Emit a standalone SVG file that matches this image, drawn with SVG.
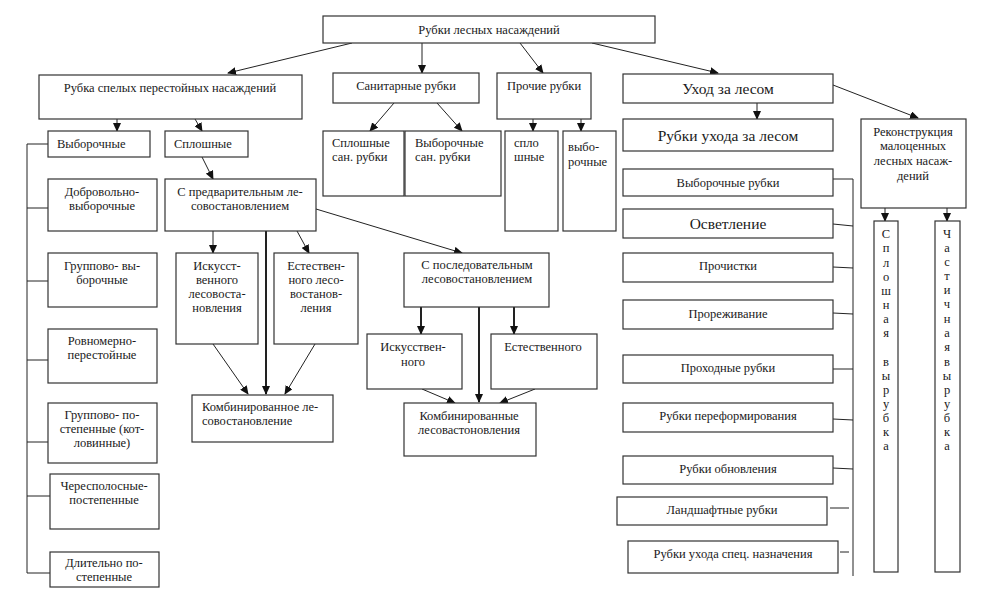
<svg xmlns="http://www.w3.org/2000/svg" width="996" height="591" viewBox="0 0 996 591" font-family="'Liberation Serif', 'DejaVu Serif', serif">
<defs>
<marker id="ah" markerWidth="9" markerHeight="8" refX="8" refY="4" orient="auto" markerUnits="userSpaceOnUse">
<path d="M0,0 L9,4 L0,8 z" fill="#111"/>
</marker>
<style>
rect{fill:#fff;stroke:#333;stroke-width:1.2}
text{font-family:'Liberation Serif','DejaVu Serif',serif;font-size:12.5px;fill:#1a1a1a}
.c{text-anchor:middle}
.big{font-size:15.5px}
.ln{stroke:#222;stroke-width:1;fill:none}
.ar{stroke:#222;stroke-width:1;fill:none;marker-end:url(#ah)}
.th{stroke:#222;stroke-width:2;fill:none;marker-end:url(#ah)}
</style>
</defs>
<rect x="0" y="0" width="996" height="591" style="fill:#fff;stroke:none"/>

<g id="connectors">
<line class="ar" x1="352" y1="43" x2="228" y2="73"/>
<line class="ar" x1="422" y1="43" x2="422" y2="73"/>
<line class="ar" x1="520" y1="43" x2="543" y2="73"/>
<line class="ar" x1="592" y1="43" x2="718" y2="73"/>
<line class="ar" x1="117" y1="119" x2="117" y2="131"/>
<line class="ar" x1="195" y1="119" x2="202" y2="131"/>
<line class="ar" x1="202" y1="157" x2="213" y2="179"/>
<line class="ar" x1="394" y1="103" x2="370" y2="131"/>
<line class="ar" x1="437" y1="103" x2="462" y2="131"/>
<line class="ar" x1="533" y1="119" x2="533" y2="131"/>
<line class="ar" x1="581" y1="119" x2="581" y2="131"/>
<line class="ar" x1="757" y1="103" x2="757" y2="119"/>
<line class="ar" x1="833" y1="85" x2="918" y2="118"/>
<line class="ar" x1="885" y1="208" x2="885" y2="221"/>
<line class="ar" x1="947" y1="208" x2="947" y2="221"/>
<polyline class="ln" points="48,144 27,144 27,573 50,573"/>
<line class="ln" x1="27" y1="208" x2="48" y2="208"/>
<line class="ln" x1="27" y1="281" x2="48" y2="281"/>
<line class="ln" x1="27" y1="360" x2="48" y2="360"/>
<line class="ln" x1="27" y1="442" x2="48" y2="442"/>
<line class="ln" x1="27" y1="496" x2="50" y2="496"/>
<polyline class="ln" points="833,179 853,179 853,576"/>
<line class="ln" x1="833" y1="224" x2="853" y2="226"/>
<line class="ln" x1="833" y1="267" x2="853" y2="268"/>
<line class="ln" x1="833" y1="313" x2="853" y2="314"/>
<line class="ln" x1="833" y1="369" x2="853" y2="369"/>
<line class="ln" x1="833" y1="419" x2="853" y2="420"/>
<line class="ln" x1="833" y1="468" x2="853" y2="469"/>
<line class="ln" x1="830" y1="508" x2="849" y2="508"/>
<line class="ln" x1="840" y1="552" x2="849" y2="552"/>
<line class="ar" x1="213" y1="231" x2="213" y2="253"/>
<line class="th" x1="266" y1="231" x2="266" y2="394"/>
<line class="ar" x1="297" y1="231" x2="309" y2="253"/>
<line class="ar" x1="213" y1="344" x2="248" y2="394"/>
<line class="ar" x1="315" y1="344" x2="285" y2="394"/>
<line class="ar" x1="316" y1="209" x2="462" y2="253"/>
<line class="th" x1="421" y1="307" x2="421" y2="334"/>
<line class="th" x1="514" y1="307" x2="514" y2="334"/>
<line class="th" x1="479" y1="307" x2="479" y2="402"/>
<line class="ar" x1="422" y1="389" x2="455" y2="403"/>
<line class="ar" x1="535" y1="389" x2="500" y2="403"/>
</g>

<g id="n-root"><rect x="323" y="16" width="332" height="27"/><text class="c" x="489" y="34">Рубки лесных насаждений</text></g>

<g id="n-spelye"><rect x="39" y="75" width="263" height="44"/><text class="c" x="170" y="92">Рубка спелых перестойных насаждений</text></g>
<g id="n-vyborochnye"><rect x="48" y="131" width="102" height="26"/><text x="57" y="148">Выборочные</text></g>
<g id="n-sploshnye"><rect x="165" y="131" width="83" height="26"/><text x="174" y="148">Сплошные</text></g>

<g id="n-dobrovolno"><rect x="48" y="179" width="109" height="52"/><text class="c" x="102" y="196">Добровольно-</text><text class="c" x="102" y="210">выборочные</text></g>
<g id="n-gruppovo-vyb"><rect x="48" y="253" width="109" height="54"/><text class="c" x="102" y="270">Группово- вы-</text><text class="c" x="102" y="284">борочные</text></g>
<g id="n-ravnomerno"><rect x="48" y="329" width="109" height="54"/><text class="c" x="102" y="345">Ровномерно-</text><text class="c" x="102" y="359">перестойные</text></g>
<g id="n-gruppovo-post"><rect x="48" y="403" width="109" height="60"/><text class="c" x="102" y="419">Группово- по-</text><text class="c" x="102" y="433">степенные (кот-</text><text class="c" x="102" y="447">ловинные)</text></g>
<g id="n-cherespolosnye"><rect x="50" y="474" width="109" height="55"/><text class="c" x="104" y="490">Чересполосные-</text><text class="c" x="104" y="504">постепенные</text></g>
<g id="n-dlitelno"><rect x="50" y="552" width="109" height="35"/><text class="c" x="104" y="567">Длительно по-</text><text class="c" x="104" y="581">степенные</text></g>

<g id="n-predvar"><rect x="165" y="179" width="151" height="52"/><text class="c" x="240" y="196">С предварительным ле-</text><text class="c" x="240" y="210">совостановлением</text></g>
<g id="n-iskusst1"><rect x="176" y="253" width="82" height="91"/><text class="c" x="217" y="270">Искусст-</text><text class="c" x="217" y="284">венного</text><text class="c" x="217" y="298">лесовоста-</text><text class="c" x="217" y="312">новления</text></g>
<g id="n-estestv1"><rect x="274" y="253" width="84" height="91"/><text class="c" x="316" y="270">Естествен-</text><text class="c" x="316" y="284">ного лесо-</text><text class="c" x="316" y="298">востанов-</text><text class="c" x="316" y="312">ления</text></g>
<g id="n-kombin1"><rect x="192" y="395" width="141" height="47"/><text x="202" y="411">Комбинированное ле-</text><text x="202" y="425">совостановление</text></g>

<g id="n-posled"><rect x="404" y="253" width="145" height="54"/><text class="c" x="477" y="269">С последовательным</text><text class="c" x="477" y="283">лесовостановлением</text></g>
<g id="n-iskusst2"><rect x="367" y="334" width="95" height="55"/><text class="c" x="413" y="351">Искусствен-</text><text class="c" x="413" y="366">ного</text></g>
<g id="n-estestv2"><rect x="491" y="334" width="106" height="55"/><text class="c" x="543" y="351">Естественного</text></g>
<g id="n-kombin2"><rect x="404" y="403" width="132" height="53"/><text class="c" x="469" y="420">Комбинированные</text><text class="c" x="469" y="434">лесовастоновления</text></g>

<g id="n-sanitar"><rect x="333" y="73" width="146" height="30"/><text class="c" x="406" y="90">Санитарные рубки</text></g>
<g id="n-spl-san"><rect x="323" y="131" width="81" height="65"/><text x="332" y="147">Сплошные</text><text x="332" y="161">сан. рубки</text></g>
<g id="n-vyb-san"><rect x="405" y="131" width="96" height="65"/><text x="415" y="147">Выборочные</text><text x="415" y="161">сан. рубки</text></g>

<g id="n-prochie"><rect x="497" y="73" width="94" height="46"/><text class="c" x="544" y="90">Прочие рубки</text></g>
<g id="n-prochie-spl"><rect x="505" y="131" width="53" height="100"/><text x="514" y="147">спло</text><text x="514" y="161">шные</text></g>
<g id="n-prochie-vyb"><rect x="563" y="131" width="53" height="100"/><text x="568" y="151">выбо-</text><text x="568" y="166">рочные</text></g>

<g id="n-uhod"><rect x="623" y="74" width="210" height="29"/><text class="c big" x="728" y="94">Уход за лесом</text></g>
<g id="n-rubki-uhoda"><rect x="623" y="119" width="210" height="32"/><text class="c big" x="728" y="141">Рубки ухода за лесом</text></g>
<g id="n-vyb-rubki"><rect x="623" y="169" width="210" height="27"/><text class="c" x="728" y="187">Выборочные рубки</text></g>
<g id="n-osvetlenie"><rect x="623" y="209" width="210" height="29"/><text class="c big" x="728" y="229">Осветление</text></g>
<g id="n-prochistki"><rect x="623" y="253" width="210" height="29"/><text class="c" x="728" y="270">Прочистки</text></g>
<g id="n-prorezh"><rect x="623" y="300" width="210" height="29"/><text class="c" x="728" y="318">Прореживание</text></g>
<g id="n-prohodnye"><rect x="623" y="355" width="210" height="28"/><text class="c" x="728" y="372">Проходные рубки</text></g>
<g id="n-pereform"><rect x="623" y="403" width="210" height="29"/><text class="c" x="728" y="420">Рубки переформирования</text></g>
<g id="n-obnovl"><rect x="623" y="456" width="210" height="28"/><text class="c" x="728" y="473">Рубки обновления</text></g>
<g id="n-landshaft"><rect x="617" y="497" width="210" height="28"/><text class="c" x="722" y="514">Ландшафтные рубки</text></g>
<g id="n-spec"><rect x="628" y="541" width="210" height="32"/><text class="c" x="733" y="558">Рубки ухода спец. назначения</text></g>

<g id="n-rekonstr"><rect x="861" y="119" width="105" height="89"/><text class="c" x="913" y="136">Реконструкция</text><text class="c" x="913" y="150">малоценных</text><text class="c" x="913" y="165">лесных насаж-</text><text class="c" x="913" y="180">дений</text></g>

<g id="n-sploshnaya"><rect x="874" y="221" width="24" height="351"/>
<text class="c" x="886" y="238">С</text><text class="c" x="886" y="252">п</text><text class="c" x="886" y="267">л</text><text class="c" x="886" y="281">о</text><text class="c" x="886" y="295">ш</text><text class="c" x="886" y="309">н</text><text class="c" x="886" y="323">а</text><text class="c" x="886" y="337">я</text><text class="c" x="886" y="366">в</text><text class="c" x="886" y="380">ы</text><text class="c" x="886" y="394">р</text><text class="c" x="886" y="408">у</text><text class="c" x="886" y="422">б</text><text class="c" x="886" y="436">к</text><text class="c" x="886" y="450">а</text>
</g>
<g id="n-chastichnaya"><rect x="935" y="221" width="25" height="351"/>
<text class="c" x="947" y="238">Ч</text><text class="c" x="947" y="252">а</text><text class="c" x="947" y="266">с</text><text class="c" x="947" y="280">т</text><text class="c" x="947" y="294">и</text><text class="c" x="947" y="308">ч</text><text class="c" x="947" y="323">н</text><text class="c" x="947" y="337">а</text><text class="c" x="947" y="351">я</text><text class="c" x="947" y="366">в</text><text class="c" x="947" y="380">ы</text><text class="c" x="947" y="394">р</text><text class="c" x="947" y="408">у</text><text class="c" x="947" y="422">б</text><text class="c" x="947" y="436">к</text><text class="c" x="947" y="450">а</text>
</g>
</svg>
